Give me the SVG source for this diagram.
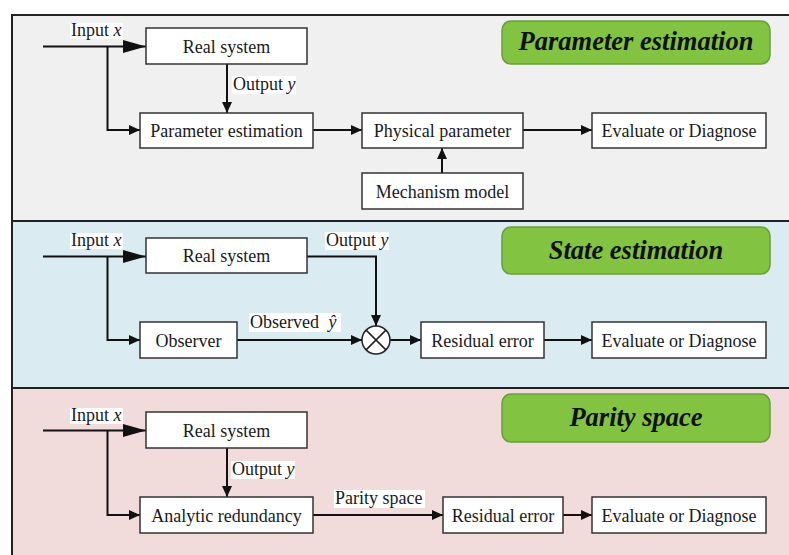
<svg xmlns="http://www.w3.org/2000/svg" width="789" height="555" viewBox="0 0 789 555">
  <defs>
    <marker id="arrowS" markerUnits="userSpaceOnUse" markerWidth="12" markerHeight="10" refX="11" refY="5" orient="auto">
      <path d="M0,0 L11,5 L0,10 z" fill="#111"/>
    </marker>
    <marker id="arrowL" markerUnits="userSpaceOnUse" markerWidth="24" markerHeight="13" refX="23" refY="6.5" orient="auto">
      <path d="M0,0 L23,6.5 L0,13 z" fill="#111"/>
    </marker>
  </defs>
  <style>
    .box { fill: #ffffff; stroke: #333333; stroke-width: 1.5; }
    .txt { font-family: 'Liberation Serif', 'DejaVu Serif', serif; font-size: 18px; fill: #1a1a1a; }
    .mid { text-anchor: middle; }
    .it { font-style: italic; }
    .badge { fill: #82c341; stroke: #6a9e3c; stroke-width: 1.5; }
    .title { font-family: 'Liberation Serif', 'DejaVu Serif', serif; font-size: 26.5px; font-weight: bold; font-style: italic; fill: #111; text-anchor: middle; }
    .lbl { fill: #ffffff; }
    .wire { fill: none; stroke: #111; stroke-width: 2; }
    .sep { stroke: #222; stroke-width: 2; fill: none; }
  </style>

  <!-- section panels -->
  <rect x="0" y="0" width="789" height="555" fill="#ffffff"/>
  <rect x="12" y="15" width="777" height="206" fill="#f0f0f0"/>
  <rect x="12" y="221" width="777" height="167" fill="#daebf2"/>
  <rect x="12" y="388" width="777" height="167" fill="#f2dcdb"/>
  <path class="sep" d="M12,15 H789 M12,221 H789 M12,388 H789 M12,14 V555"/>

  <!-- section titles -->
  <g id="title-parameter">
    <rect class="badge" x="502" y="21" width="268" height="43" rx="9"/>
    <text class="title" x="636" y="50">Parameter estimation</text>
  </g>
  <g id="title-state">
    <rect class="badge" x="502" y="227" width="268" height="47" rx="9"/>
    <text class="title" x="636" y="259">State estimation</text>
  </g>
  <g id="title-parity">
    <rect class="badge" x="502" y="394" width="268" height="48" rx="9"/>
    <text class="title" x="636" y="426">Parity space</text>
  </g>

  <!-- connectors -->
  <g id="connectors">
    <!-- parameter estimation -->
    <path class="wire" d="M43,46.5 H146" marker-end="url(#arrowL)"/>
    <path class="wire" d="M107.5,46.5 V130 H140" marker-end="url(#arrowS)"/>
    <path class="wire" d="M227,64 V113" marker-end="url(#arrowS)"/>
    <path class="wire" d="M313,130 H362" marker-end="url(#arrowS)"/>
    <path class="wire" d="M442,173 V148" marker-end="url(#arrowS)"/>
    <path class="wire" d="M523,130 H592" marker-end="url(#arrowS)"/>
    <!-- state estimation -->
    <path class="wire" d="M43,256.5 H146" marker-end="url(#arrowL)"/>
    <path class="wire" d="M107.5,256.5 V340 H140" marker-end="url(#arrowS)"/>
    <path class="wire" d="M307,256.5 H376 V326" marker-end="url(#arrowS)"/>
    <path class="wire" d="M237,340 H362" marker-end="url(#arrowS)"/>
    <path class="wire" d="M390,340 H421" marker-end="url(#arrowS)"/>
    <path class="wire" d="M544,340 H592" marker-end="url(#arrowS)"/>
    <!-- parity space -->
    <path class="wire" d="M43,430.5 H146" marker-end="url(#arrowL)"/>
    <path class="wire" d="M107.5,430.5 V515 H140" marker-end="url(#arrowS)"/>
    <path class="wire" d="M227,448 V497" marker-end="url(#arrowS)"/>
    <path class="wire" d="M313,515 H443" marker-end="url(#arrowS)"/>
    <path class="wire" d="M563,515 H592" marker-end="url(#arrowS)"/>
  </g>

  <!-- connector labels -->
  <g id="labels">
    <rect class="lbl" x="70" y="23" width="53" height="16"/>
    <text class="txt" x="71" y="36">Input <tspan class="it">x</tspan></text>
    <rect class="lbl" x="232" y="76" width="64" height="18"/>
    <text class="txt" x="233" y="90">Output <tspan class="it">y</tspan></text>

    <rect class="lbl" x="70" y="233" width="53" height="16"/>
    <text class="txt" x="71" y="246">Input <tspan class="it">x</tspan></text>
    <rect class="lbl" x="325" y="232" width="64" height="18"/>
    <text class="txt" x="326" y="246">Output <tspan class="it">y</tspan></text>
    <rect class="lbl" x="249" y="313" width="92" height="19"/>
    <text class="txt" x="250" y="328">Observed <tspan class="it" dx="5">ŷ</tspan></text>

    <rect class="lbl" x="70" y="408" width="53" height="16"/>
    <text class="txt" x="71" y="421">Input <tspan class="it">x</tspan></text>
    <rect class="lbl" x="231" y="461" width="64" height="18"/>
    <text class="txt" x="232" y="475">Output <tspan class="it">y</tspan></text>
    <rect class="lbl" x="334" y="490" width="91" height="18"/>
    <text class="txt" x="335" y="504">Parity space</text>
  </g>

  <!-- parameter estimation nodes -->
  <g id="pe-real-system">
    <rect class="box" x="146" y="28" width="161" height="36"/>
    <text class="txt mid" x="226.5" y="52.5">Real system</text>
  </g>
  <g id="pe-parameter-estimation">
    <rect class="box" x="140" y="113" width="173" height="35"/>
    <text class="txt mid" x="226.5" y="136.5">Parameter estimation</text>
  </g>
  <g id="pe-physical-parameter">
    <rect class="box" x="362" y="113" width="161" height="35"/>
    <text class="txt mid" x="442.5" y="136.5">Physical parameter</text>
  </g>
  <g id="pe-mechanism-model">
    <rect class="box" x="362" y="173" width="161" height="36"/>
    <text class="txt mid" x="442.5" y="197.5">Mechanism model</text>
  </g>
  <g id="pe-evaluate">
    <rect class="box" x="592" y="113" width="174" height="35"/>
    <text class="txt mid" x="679" y="136.5">Evaluate or Diagnose</text>
  </g>

  <!-- state estimation nodes -->
  <g id="se-real-system">
    <rect class="box" x="146" y="238" width="161" height="35"/>
    <text class="txt mid" x="226.5" y="261.5">Real system</text>
  </g>
  <g id="se-observer">
    <rect class="box" x="140" y="322" width="97" height="36"/>
    <text class="txt mid" x="188.5" y="346.5">Observer</text>
  </g>
  <g id="se-comparator">
    <circle cx="376" cy="340" r="14" fill="#ffffff" stroke="#222" stroke-width="1.5"/>
    <path d="M366.1,330.1 L385.9,349.9 M385.9,330.1 L366.1,349.9" stroke="#222" stroke-width="1.5"/>
  </g>
  <g id="se-residual">
    <rect class="box" x="421" y="322" width="123" height="36"/>
    <text class="txt mid" x="482.5" y="346.5">Residual error</text>
  </g>
  <g id="se-evaluate">
    <rect class="box" x="592" y="322" width="174" height="36"/>
    <text class="txt mid" x="679" y="346.5">Evaluate or Diagnose</text>
  </g>

  <!-- parity space nodes -->
  <g id="ps-real-system">
    <rect class="box" x="146" y="412" width="161" height="36"/>
    <text class="txt mid" x="226.5" y="436.5">Real system</text>
  </g>
  <g id="ps-analytic-redundancy">
    <rect class="box" x="140" y="497" width="173" height="36"/>
    <text class="txt mid" x="226.5" y="521.5">Analytic redundancy</text>
  </g>
  <g id="ps-residual">
    <rect class="box" x="443" y="497" width="120" height="36"/>
    <text class="txt mid" x="503" y="521.5">Residual error</text>
  </g>
  <g id="ps-evaluate">
    <rect class="box" x="592" y="497" width="174" height="36"/>
    <text class="txt mid" x="679" y="521.5">Evaluate or Diagnose</text>
  </g>
</svg>
